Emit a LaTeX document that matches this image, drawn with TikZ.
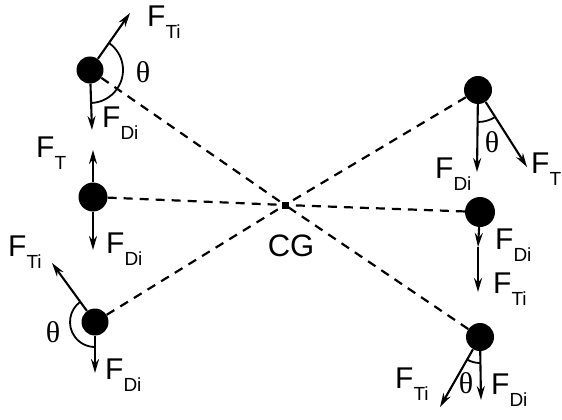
\documentclass[tikz,border=0pt]{standalone}
\usepackage{fontspec}
\setmainfont{Liberation Sans}
\newfontfamily\thetafont{Liberation Serif}
\usetikzlibrary{arrows.meta,calc}
\newcommand{\FF}[1]{F\raisebox{-0.42em}{\fontsize{19}{19}\selectfont #1}}
\begin{document}
\begin{tikzpicture}[x=1pt,y=1pt,
  ball/.style={circle,fill=black,inner sep=0pt,minimum size=#1},
  force/.style={line width=2.1pt,-{Stealth[length=14pt,width=8pt]}},
  conn/.style={line width=2.2pt,dash pattern=on 9pt off 7pt},
  anglearc/.style={line width=1.8pt},
  lbl/.style={font=\fontsize{30}{30}\selectfont,inner sep=0pt,anchor=west},
  th/.style={font=\thetafont\fontsize{30}{30}\selectfont,inner sep=0pt}]
\useasboundingbox (0,0) rectangle (562,-420);
% centre of gravity
\node[fill=black,inner sep=0pt,minimum size=7pt] (CG) at (285,-205) {};
\node[font=\fontsize{31}{31}\selectfont,inner sep=0pt] (cgl) at (291,-246) {CG};
% balls
\node[ball=27pt] (L1) at (90,-70) {};
\node[ball=29pt] (L2) at (93,-197) {};
\node[ball=27pt] (L3) at (95,-322) {};
\node[ball=28pt] (R1) at (478,-90) {};
\node[ball=30pt] (R2) at (480,-212) {};
\node[ball=28pt] (R3) at (480,-337) {};
% dashed connectors
\foreach \b in {L1,L2,L3,R1,R2,R3} \draw[conn] (\b) -- (CG);
% arrow tips
\coordinate (L1t) at (130,-13);
\coordinate (L1d) at (92,-130);
\coordinate (L2u) at (93,-150);
\coordinate (L2d) at (93,-250);
\coordinate (L3t) at (52,-263);
\coordinate (L3d) at (95,-373);
\coordinate (R1d) at (477,-172);
\coordinate (R1t) at (527,-167);
\coordinate (R2m) at (478,-247);
\coordinate (R2d) at (478,-292);
\coordinate (R3d) at (481,-400);
\coordinate (R3t) at (440,-407);
% forces
\draw[force] (L1) -- (L1t);
\draw[force] (L1) -- (L1d);
\draw[force] (L2) -- (L2u);
\draw[force] (L2) -- (L2d);
\draw[force] (L3) -- (L3t);
\draw[force] (L3) -- (L3d);
\draw[force] (R1) -- (R1d);
\draw[force] (R1) -- (R1t);
\draw[force] (R2) -- (R2m);
\draw[force] (R2m) -- (R2d);
\draw[force] (R3) -- (R3d);
\draw[force] (R3) -- (R3t);
% angle arcs
\draw[anglearc] ($(L1)+(55:33)$) arc[start angle=55,end angle=-88,radius=33];
\draw[anglearc] ($(L3)+(126:25)$) arc[start angle=126,end angle=270,radius=25];
\draw[anglearc] ($(R1)+(-90:32)$) arc[start angle=-90,end angle=-57,radius=32];
\draw[anglearc] ($(R3)+(240:26)$) arc[start angle=240,end angle=270,radius=26];
% theta labels
\node[th] (thL1) at (143,-72) {θ};
\node[th] (thL3) at (53,-332) {θ};
\node[th] (thR1) at (492,-142) {θ};
\node[th] (thR3) at (466,-383) {θ};
% force labels
\node[lbl] (lL1t) at (147,-22) {\FF{Ti}};
\node[lbl] (lL1d) at (102,-123) {\FF{Di}};
\node[lbl] (lL2u) at (36,-153) {\FF{T}};
\node[lbl] (lL2d) at (106,-249) {\FF{Di}};
\node[lbl] (lL3t) at (8,-252) {\FF{Ti}};
\node[lbl] (lL3d) at (105,-375) {\FF{Di}};
\node[lbl] (lR1d) at (435,-174) {\FF{Di}};
\node[lbl] (lR1t) at (531,-169) {\FF{T}};
\node[lbl] (lR2m) at (495,-245) {\FF{Di}};
\node[lbl] (lR2d) at (493,-289) {\FF{Ti}};
\node[lbl] (lR3t) at (395,-384) {\FF{Ti}};
\node[lbl] (lR3d) at (491,-390) {\FF{Di}};
\end{tikzpicture}
\end{document}
